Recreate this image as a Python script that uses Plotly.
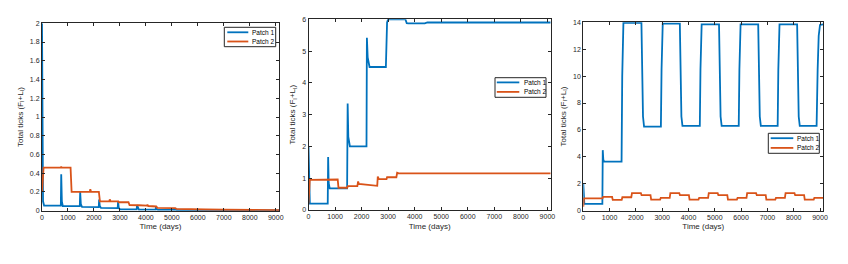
import plotly.graph_objects as go

# ---------------- data ----------------
# Panel 1
p1_blue_t = [0, 15, 40, 80, 725, 740, 765, 800, 1455, 1470, 1495, 1540, 2185, 2200, 2225, 2270,
             2915, 2930, 2955, 3000, 3645, 3660, 3690, 3730, 4375, 4390, 4420, 4460,
             5105, 5120, 5150, 5200, 9125]
p1_blue_v = [2.0, 0.6, 0.1, 0.055, 0.055, 0.39, 0.1, 0.05, 0.048, 0.2, 0.07, 0.04, 0.038, 0.12, 0.05, 0.03,
             0.028, 0.1, 0.03, 0.015, 0.014, 0.06, 0.025, 0.012, 0.012, 0.045, 0.015, 0.008,
             0.008, 0.025, 0.01, 0.005, 0.003]
p1_orange_t = [0, 30, 60, 720, 740, 760, 1100, 1140, 1840, 1860, 1890, 2190, 2230, 2590, 2610, 2640,
               2940, 2960, 3330, 3370, 3680, 3700, 3730, 4040, 4060, 4090, 4400, 4440, 4770, 4800, 4830,
               5130, 5170, 5500, 5900, 6300, 7000, 8000, 9125]
p1_orange_v = [0.2, 0.42, 0.46, 0.46, 0.47, 0.46, 0.46, 0.2, 0.2, 0.23, 0.2, 0.2, 0.1, 0.1, 0.12, 0.1,
               0.1, 0.09, 0.09, 0.06, 0.06, 0.065, 0.058, 0.055, 0.065, 0.05, 0.045, 0.03, 0.03, 0.035, 0.028,
               0.028, 0.02, 0.02, 0.015, 0.013, 0.01, 0.008, 0.006]

# Panel 2
p2_blue_t = [0, 20, 50, 725, 740, 760, 800, 1455, 1475, 1500, 1560, 2185, 2200, 2230, 2300,
             2915, 2960, 3000, 3650, 3700, 3760, 4380, 4480, 9125]
p2_blue_v = [2.0, 0.5, 0.2, 0.2, 1.67, 0.85, 0.68, 0.68, 3.35, 2.3, 2.0, 2.0, 5.42, 4.8, 4.5,
             4.5, 5.9, 6.0, 6.0, 5.88, 5.87, 5.87, 5.9, 5.9]
p2_orange_t = [0, 20, 50, 1100, 1130, 1460, 1480, 1840, 1870, 1900, 2190, 2210, 2590, 2610, 2650,
               2940, 2960, 3310, 3340, 3400, 9125]
p2_orange_v = [0.2, 0.85, 0.95, 0.96, 0.7, 0.7, 0.75, 0.75, 0.9, 0.82, 0.8, 0.78, 0.76, 1.05, 0.97,
               0.97, 1.03, 1.03, 1.17, 1.15, 1.15]

# Panel 3
p3_blue_t = [0, 15, 40, 725, 740, 760, 790, 1455, 1480, 1500, 1525,
             2210, 2240, 2270, 2310, 2950, 2975, 2995, 3020,
             3670, 3700, 3730, 3770, 4430, 4455, 4475, 4500,
             5160, 5190, 5220, 5260, 5910, 5935, 5955, 5980,
             6650, 6680, 6710, 6750, 7390, 7415, 7435, 7460,
             8130, 8160, 8190, 8230, 8870, 8910, 8950, 9000, 9125]
p3_blue_v = [2.0, 0.9, 0.5, 0.5, 4.5, 3.8, 3.65, 3.65, 10.0, 13.5, 13.95,
             13.95, 9.5, 7.0, 6.25, 6.25, 10.5, 13.3, 13.9,
             13.9, 9.5, 7.0, 6.3, 6.3, 10.5, 13.3, 13.85,
             13.85, 9.5, 7.0, 6.3, 6.3, 10.5, 13.3, 13.85,
             13.85, 9.5, 7.0, 6.3, 6.3, 10.5, 13.3, 13.85,
             13.85, 9.5, 7.0, 6.3, 6.3, 10.5, 13.0, 13.8, 13.85]
p3_orange_t = [0, 25, 730, 755, 1095, 1120, 1460, 1485, 1825, 1850, 2190, 2215, 2555, 2580,
               2920, 2945, 3285, 3310, 3650, 3675, 4015, 4040, 4380, 4405, 4745, 4770,
               5110, 5135, 5475, 5500, 5840, 5865, 6205, 6230, 6570, 6595, 6935, 6960,
               7300, 7325, 7665, 7690, 8030, 8055, 8395, 8420, 8760, 8785, 9125]
p3_orange_v = [0.3, 0.92, 0.92, 1.02, 1.02, 0.8, 0.8, 1.0, 1.0, 1.3, 1.3, 1.15, 1.15, 0.82,
               0.82, 0.95, 0.95, 1.3, 1.3, 1.15, 1.15, 0.82, 0.82, 0.95, 0.95, 1.3,
               1.3, 1.15, 1.15, 0.82, 0.82, 0.95, 0.95, 1.3, 1.3, 1.15, 1.15, 0.82,
               0.82, 0.95, 0.95, 1.3, 1.3, 1.15, 1.15, 0.82, 0.82, 0.95, 0.95]

series_names = ["Patch 1", "Patch 2"]
x_ticks = [0, 1000, 2000, 3000, 4000, 5000, 6000, 7000, 8000, 9000]
y1_ticks = [0, 0.2, 0.4, 0.6, 0.8, 1, 1.2, 1.4, 1.6, 1.8, 2]
y2_ticks = [0, 1, 2, 3, 4, 5, 6]
y3_ticks = [0, 2, 4, 6, 8, 10, 12, 14]
x_title = "Time (days)"
y_title = "Total ticks (F<sub>I</sub>+L<sub>I</sub>)"

# ---------------- figure ----------------
# the page body adds an 8px margin, so the figure is 840x256 placed at (8, 8)
OFF = 8
W, H = 840, 256
BLUE = "#0072BD"
ORANGE = "#D95319"
COLORS = [BLUE, ORANGE]
AX = "#262626"
FONT = "Liberation Sans, Arial, Helvetica, sans-serif"

def px(x):
    return (x - OFF) / W

def py(y):
    return 1 - (y - OFF) / H

fig = go.Figure()

panels = [
    (p1_blue_t, p1_blue_v, p1_orange_t, p1_orange_v),
    (p2_blue_t, p2_blue_v, p2_orange_t, p2_orange_v),
    (p3_blue_t, p3_blue_v, p3_orange_t, p3_orange_v),
]
for i, (bt, bv, ot, ov) in enumerate(panels):
    sfx = "" if i == 0 else str(i + 1)
    fig.add_trace(go.Scatter(x=bt, y=bv, mode="lines", name=series_names[0],
                             line=dict(color=BLUE, width=1.8), showlegend=False,
                             xaxis="x" + sfx, yaxis="y" + sfx))
    fig.add_trace(go.Scatter(x=ot, y=ov, mode="lines", name=series_names[1],
                             line=dict(color=ORANGE, width=1.8), showlegend=False,
                             xaxis="x" + sfx, yaxis="y" + sfx))

# window-pixel boxes of the three axes: (left, right, top, bottom)
boxes = [(42, 279, 23.3, 210.7), (308.5, 550.7, 19.3, 210.0), (583.3, 823.3, 22.3, 210.7)]
yticks = [y1_ticks, y2_ticks, y3_ticks]
yranges = [[0, 2], [0, 6], [0, 14]]

def axis_common():
    return dict(showline=True, linecolor=AX, linewidth=1, mirror="ticks",
                ticks="inside", ticklen=3, tickcolor=AX, tickwidth=1,
                showgrid=False, zeroline=False, automargin=False,
                tickfont=dict(family=FONT, size=7, color=AX))

layout = {}
for i, (l, r, t, b) in enumerate(boxes):
    sfx = "" if i == 0 else str(i + 1)
    xa = axis_common()
    xa.update(domain=[px(l), px(r)], range=[0, 9125], tickvals=x_ticks,
              anchor="y" + sfx,
              title=dict(text=x_title, font=dict(family=FONT, size=8, color=AX), standoff=3))
    ya = axis_common()
    ya.update(domain=[py(b), py(t)], range=yranges[i], tickvals=yticks[i],
              anchor="x" + sfx,
              title=dict(text=y_title, font=dict(family=FONT, size=8, color=AX), standoff=5))
    layout["xaxis" + sfx] = xa
    layout["yaxis" + sfx] = ya

# legend boxes drawn as shapes + text (window-pixel positions of the boxes)
# (box_left, box_right, box_top, box_bottom, row1_y, row2_y, line_x0, line_x1, text_x)
legend_boxes = [
    (224.3, 275.7, 27.3, 46.7, 32.3, 41.5, 227.3, 248.3, 250.0),
    (495.0, 546.0, 77.7, 97.3, 82.4, 91.9, 496.8, 519.3, 521.5),
    (768.3, 819.3, 133.3, 153.3, 138.2, 147.9, 770.7, 793.3, 795.2),
]
shapes = []
annotations = []
for (bl, br, bt_, bb, r1, r2, lx0, lx1, tx) in legend_boxes:
    shapes.append(dict(type="rect", xref="paper", yref="paper", layer="above",
                       x0=px(bl), x1=px(br), y0=py(bb), y1=py(bt_),
                       fillcolor="white", line=dict(color=AX, width=1)))
    for k, ry in enumerate([r1, r2]):
        shapes.append(dict(type="line", xref="paper", yref="paper", layer="above",
                           x0=px(lx0), x1=px(lx1), y0=py(ry), y1=py(ry),
                           line=dict(color=COLORS[k], width=1.8)))
        annotations.append(dict(text=series_names[k], xref="paper", yref="paper",
                                x=px(tx), y=py(ry), xanchor="left", yanchor="middle",
                                showarrow=False,
                                font=dict(family=FONT, size=6.5, color="black")))

fig.update_layout(**layout)
fig.update_layout(width=W, height=H, margin=dict(l=0, r=0, t=0, b=0, pad=0),
                  paper_bgcolor="white", plot_bgcolor="white", showlegend=False,
                  shapes=shapes, annotations=annotations,
                  font=dict(family=FONT, color=AX))

fig.write_html("out.html")
